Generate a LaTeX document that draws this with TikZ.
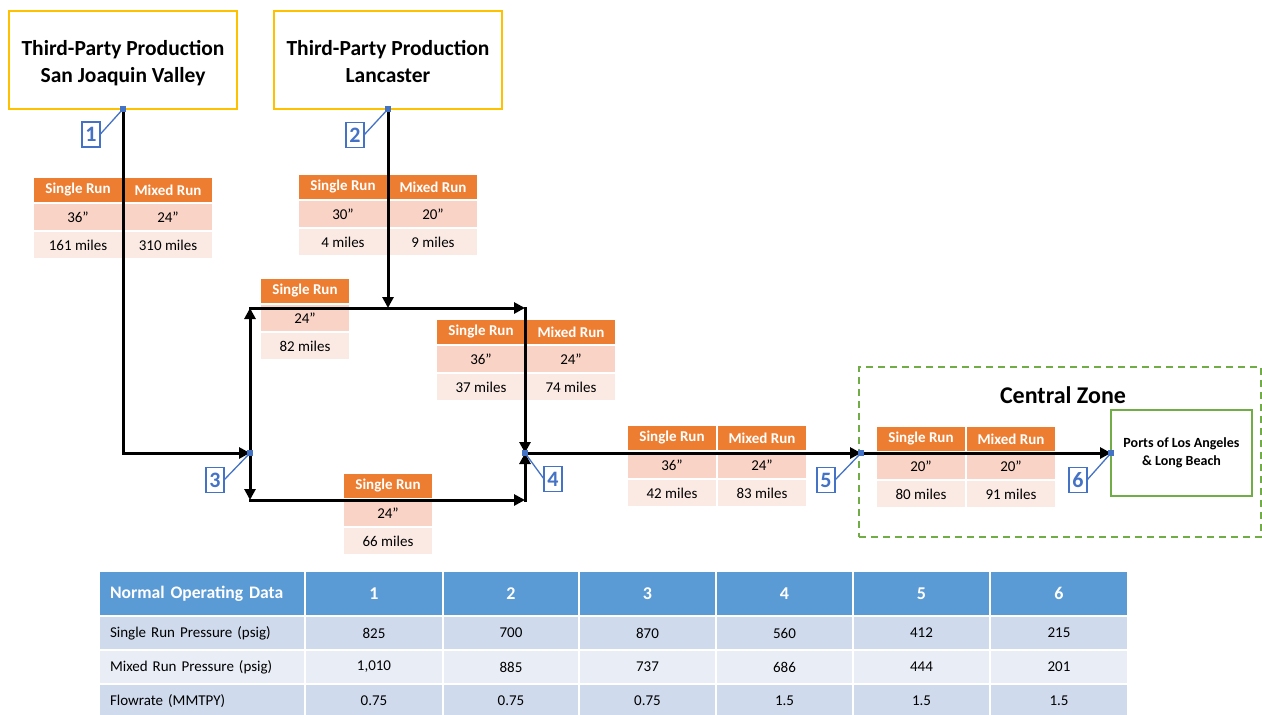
\documentclass[tikz,border=0pt]{standalone}
\usepackage{fontspec}
\setmainfont{Carlito}
\usetikzlibrary{arrows.meta}
\definecolor{orng}{HTML}{ED7D31}
\definecolor{sal1}{HTML}{F8D3C6}
\definecolor{sal2}{HTML}{FBEAE4}
\definecolor{lblue}{HTML}{4472C4}
\definecolor{hblue}{HTML}{5B9BD5}
\definecolor{bba}{HTML}{CFDAEC}
\definecolor{bbb}{HTML}{E9EDF6}
\definecolor{ygold}{HTML}{FFC000}
\definecolor{grn}{HTML}{70AD47}
\newcommand\twotab[7]{%
  \node[hdr] (#1h1) at (#2,#3) {Single Run};
  \node[hdr] (#1h2) at (#2+90,#3) {Mixed Run};
  \node[rowa] (#1a1) at (#2,#3+26) {#4};
  \node[rowa] (#1a2) at (#2+90,#3+26) {#5};
  \node[rowb] (#1b1) at (#2,#3+54) {#6};
  \node[rowb] (#1b2) at (#2+90,#3+54) {#7};}
\newcommand\onetab[5]{%
  \node[hdr] (#1h1) at (#2,#3) {Single Run};
  \node[rowa] (#1a1) at (#2,#3+26) {#4};
  \node[rowb] (#1b1) at (#2,#3+54) {#5};}
\newcommand\bcell[7]{%
  \node[bcellbase,#6,minimum width={#3-#2-2},minimum height={#5-#4-2}] (#1) at (#2,#4) {#7};}
\begin{document}
\begin{tikzpicture}[x=1pt,y=-1pt,
  every node/.style={inner sep=0pt,outer sep=0pt},
  src/.style={draw=ygold,line width=1.5pt,minimum width=228pt,minimum height=98pt,
    align=center,anchor=north west,font=\fontsize{21.5}{27}\selectfont\bfseries},
  pipe/.style={line width=3pt,line cap=rect,-{Triangle[length=11pt,width=11pt]}},
  hdr/.style={fill=orng,text=white,anchor=north west,minimum width=88pt,minimum height=24pt,
    font=\fontsize{15}{18}\selectfont\bfseries},
  rowa/.style={fill=sal1,anchor=north west,minimum width=88pt,minimum height=26pt,
    font=\fontsize{15}{18}\selectfont},
  rowb/.style={rowa,fill=sal2},
  lab/.style={draw=lblue,text=lblue,line width=1.2pt,minimum width=18pt,minimum height=25pt,
    font=\fontsize{22}{24}\selectfont\bfseries},
  labline/.style={draw=lblue,line width=1.3pt},
  bcellbase/.style={anchor=north west},
  bh/.style={fill=hblue,text=white,font=\fontsize{18}{22}\selectfont\bfseries},
  ba/.style={fill=bba,font=\fontsize{15}{18}\selectfont},
  bb/.style={fill=bbb,font=\fontsize{15}{18}\selectfont},
  first/.style={text width={#1},inner xsep=10pt,align=left},
]
\useasboundingbox (0,0) rectangle (1262,715);

% sources and destination
\node[src] (src1) at (9,11) {\rule{0pt}{22pt}Third-Party Production\\San Joaquin Valley};
\node[src] (src2) at (274,11) {\rule{0pt}{22pt}Third-Party Production\\Lancaster\vphantom{Valley}};
\node[draw=grn,line width=1.5pt,dash pattern=on 7pt off 5pt,minimum width=402pt,minimum height=170pt,
  anchor=north west] (cz) at (859,367) {};
\node[font=\fontsize{24}{28}\selectfont\bfseries] (czt) at (1063,395) {Central Zone};
\node[draw=grn,line width=1.5pt,minimum width=141pt,minimum height=86pt,anchor=north west,
  align=center,font=\fontsize{14}{18}\selectfont\bfseries] (dest) at (1111,410) {Ports of Los Angeles\\\& Long Beach};

% points
\coordinate (p1) at (src1.south);
\coordinate (p2) at (src2.south);
\coordinate (p3) at (250,453);
\coordinate (p4) at (525,453);
\coordinate (p5) at (861,453);
\coordinate (p6) at (dest.west);
\coordinate (c3t) at (250,308);
\coordinate (c3b) at (250,500);
\coordinate (c4t) at (525,308);
\coordinate (c4b) at (525,500);
\coordinate (j2) at (p2 |- c3t);

% pipe tables
\twotab{ta}{34}{178}{36”}{24”}{161 miles}{310 miles}
\twotab{tb}{299}{175}{30”}{20”}{4 miles}{9 miles}
\onetab{tc}{261}{279}{24”}{82 miles}
\twotab{td}{437}{320}{36”}{24”}{37 miles}{74 miles}
\onetab{te}{344}{474}{24”}{66 miles}
\twotab{tf}{628}{426}{36”}{24”}{42 miles}{83 miles}
\twotab{tg}{877}{427}{20”}{20”}{80 miles}{91 miles}

% pipes
\draw[pipe] (p1) |- (p3);
\draw[pipe] (p2) -- (j2);
\draw[pipe] (p3) -- (c3t);
\draw[pipe] (c3t) -- (c4t);
\draw[pipe] (c4t) -- (p4);
\draw[pipe] (p3) -- (c3b);
\draw[pipe] (c3b) -- (c4b);
\draw[pipe] (c4b) -- (p4);
\draw[pipe] (p4) -- (p5);
\draw[pipe] (p5) -- (p6);

% labels
\node[lab] (l1) at (91,134.5) {1};
\node[lab] (l2) at (355,135) {2};
\node[lab] (l3) at (215,480) {3};
\node[lab] (l4) at (553,479) {4};
\node[lab] (l5) at (826,480) {5};
\node[lab] (l6) at (1078,480) {6};
\draw[labline] (l1.east) -- (p1);
\draw[labline] (l2.east) -- (p2);
\draw[labline] (l3.east) -- (p3);
\draw[labline] (l4.west) -- (p4);
\draw[labline] (l5.east) -- (p5);
\draw[labline] (l6.east) -- (p6);
\foreach \p in {p1,p2,p3,p4,p5,p6} \fill[lblue] (\p) ++(-3,-3) rectangle ++(6,6);

% data table
\bcell{h0}{100}{306}{572}{617}{bh,first=184pt,font=\fontsize{17.6}{20}\selectfont\bfseries}{Normal Operating Data}
\bcell{h1}{306}{444}{572}{617}{bh}{1}
\bcell{h2}{444}{580}{572}{617}{bh}{2}
\bcell{h3}{580}{717}{572}{617}{bh}{3}
\bcell{h4}{717}{854}{572}{617}{bh}{4}
\bcell{h5}{854}{991}{572}{617}{bh}{5}
\bcell{h6}{991}{1129}{572}{617}{bh}{6}
\bcell{a0}{100}{306}{617}{651}{ba,first=184pt}{Single Run Pressure (psig)}
\bcell{a1}{306}{444}{617}{651}{ba}{825}
\bcell{a2}{444}{580}{617}{651}{ba}{700}
\bcell{a3}{580}{717}{617}{651}{ba}{870}
\bcell{a4}{717}{854}{617}{651}{ba}{560}
\bcell{a5}{854}{991}{617}{651}{ba}{412}
\bcell{a6}{991}{1129}{617}{651}{ba}{215}
\bcell{b0}{100}{306}{651}{685}{bb,first=184pt}{Mixed Run Pressure (psig)}
\bcell{b1}{306}{444}{651}{685}{bb}{1,010}
\bcell{b2}{444}{580}{651}{685}{bb}{885}
\bcell{b3}{580}{717}{651}{685}{bb}{737}
\bcell{b4}{717}{854}{651}{685}{bb}{686}
\bcell{b5}{854}{991}{651}{685}{bb}{444}
\bcell{b6}{991}{1129}{651}{685}{bb}{201}
\bcell{c0}{100}{306}{685}{719}{ba,first=184pt}{Flowrate (MMTPY)}
\bcell{c1}{306}{444}{685}{719}{ba}{0.75}
\bcell{c2}{444}{580}{685}{719}{ba}{0.75}
\bcell{c3}{580}{717}{685}{719}{ba}{0.75}
\bcell{c4}{717}{854}{685}{719}{ba}{1.5}
\bcell{c5}{854}{991}{685}{719}{ba}{1.5}
\bcell{c6}{991}{1129}{685}{719}{ba}{1.5}
\end{tikzpicture}
\end{document}
